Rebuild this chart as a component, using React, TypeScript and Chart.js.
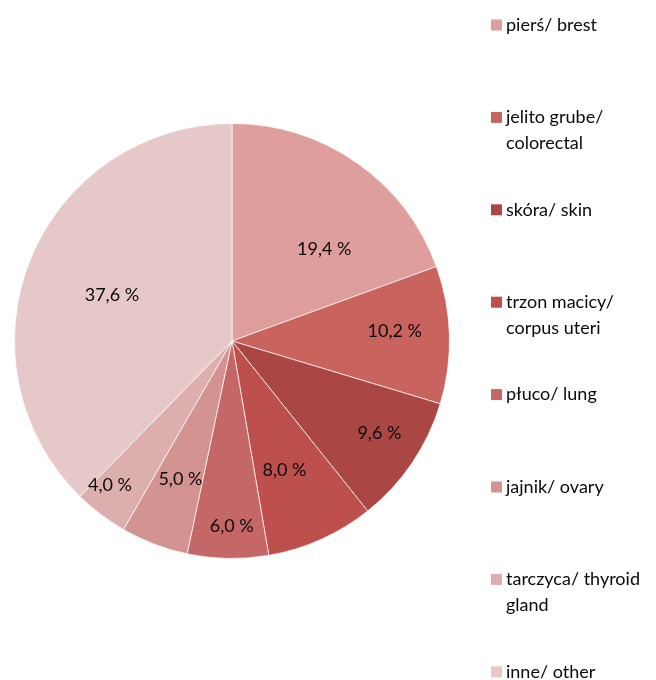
import React, { useEffect, useRef } from "react";
import { Chart, registerables } from "chart.js";

Chart.register(...registerables);

const categories: string[][] = [
  ["pierś/ brest"],
  ["jelito grube/", "colorectal"],
  ["skóra/ skin"],
  ["trzon macicy/", "corpus uteri"],
  ["płuco/ lung"],
  ["jajnik/ ovary"],
  ["tarczyca/ thyroid", "gland"],
  ["inne/ other"],
];
const values: number[] = [19.4, 10.2, 9.6, 8.0, 6.0, 5.0, 4.0, 37.6];
const valueLabels: string[] = ["19,4 %", "10,2 %", "9,6 %", "8,0 %", "6,0 %", "5,0 %", "4,0 %", "37,6 %"];
const colors: string[] = ["#DD9E9C", "#C8635E", "#AA4744", "#BD4F4C", "#C46766", "#D39391", "#DCAFAE", "#E7C8C8"];
// label placement: [fraction of radius, angular shift in degrees]
const labelRadius: number[] = [0.6, 0.75, 0.8, 0.64, 0.85, 0.68, 0.87, 0.59];
const labelShift: number[] = [10, -2, -2, 2, -1, -0.5, 3, -1.5];

const FONT = "Lato, 'Noto Sans', sans-serif";

const labelsPlugin = {
  id: "sliceLabels",
  afterDatasetsDraw(chart: any) {
    const ctx = chart.ctx;
    const meta = chart.getDatasetMeta(0);
    ctx.save();
    ctx.font = `18px ${FONT}`;
    ctx.fillStyle = "#0a0a0a";
    ctx.textAlign = "center";
    ctx.textBaseline = "middle";
    meta.data.forEach((arc: any, i: number) => {
      const { x, y, startAngle, endAngle, outerRadius } = arc.getProps(
        ["x", "y", "startAngle", "endAngle", "outerRadius"],
        true
      );
      const mid = (startAngle + endAngle) / 2 + (labelShift[i] * Math.PI) / 180;
      const r = outerRadius * labelRadius[i];
      ctx.fillText(valueLabels[i], x + Math.cos(mid) * r, y + Math.sin(mid) * r);
    });
    ctx.restore();
  },
};

const legendPlugin = {
  id: "sideLegend",
  afterDraw(chart: any) {
    const ctx = chart.ctx;
    ctx.save();
    ctx.font = `18px ${FONT}`;
    ctx.textBaseline = "middle";
    ctx.textAlign = "left";
    const x0 = 491;
    const y0 = 25;
    const step = 92.4;
    categories.forEach((lines, i) => {
      const y = y0 + i * step;
      ctx.fillStyle = colors[i];
      ctx.fillRect(x0, y - 5.5, 11, 11);
      ctx.fillStyle = "#0a0a0a";
      lines.forEach((t, j) => {
        ctx.fillText(t, x0 + 15, y + j * 25.5);
      });
    });
    ctx.restore();
  },
};

export default function App() {
  const ref = useRef<HTMLCanvasElement>(null);
  useEffect(() => {
    if (!ref.current) return;
    const chart = new Chart(ref.current, {
      type: "pie",
      data: {
        labels: categories.map((l) => l.join(" ")),
        datasets: [
          {
            data: values,
            backgroundColor: colors,
            borderColor: "rgba(255,255,255,0.7)",
            borderWidth: 1,
          },
        ],
      },
      options: {
        animation: false,
        responsive: false,
        layout: { padding: { left: 14, right: 206, top: 123, bottom: 121 } },
        plugins: {
          legend: { display: false },
          tooltip: { enabled: false },
        },
      },
      plugins: [labelsPlugin, legendPlugin],
    });
    return () => chart.destroy();
  }, []);
  return (
    <div style={{ position: "fixed", left: 0, top: 0, width: 656, height: 680, background: "#fff" }}>
      <canvas ref={ref} width={656} height={680} style={{ width: 656, height: 680 }} />
    </div>
  );
}
